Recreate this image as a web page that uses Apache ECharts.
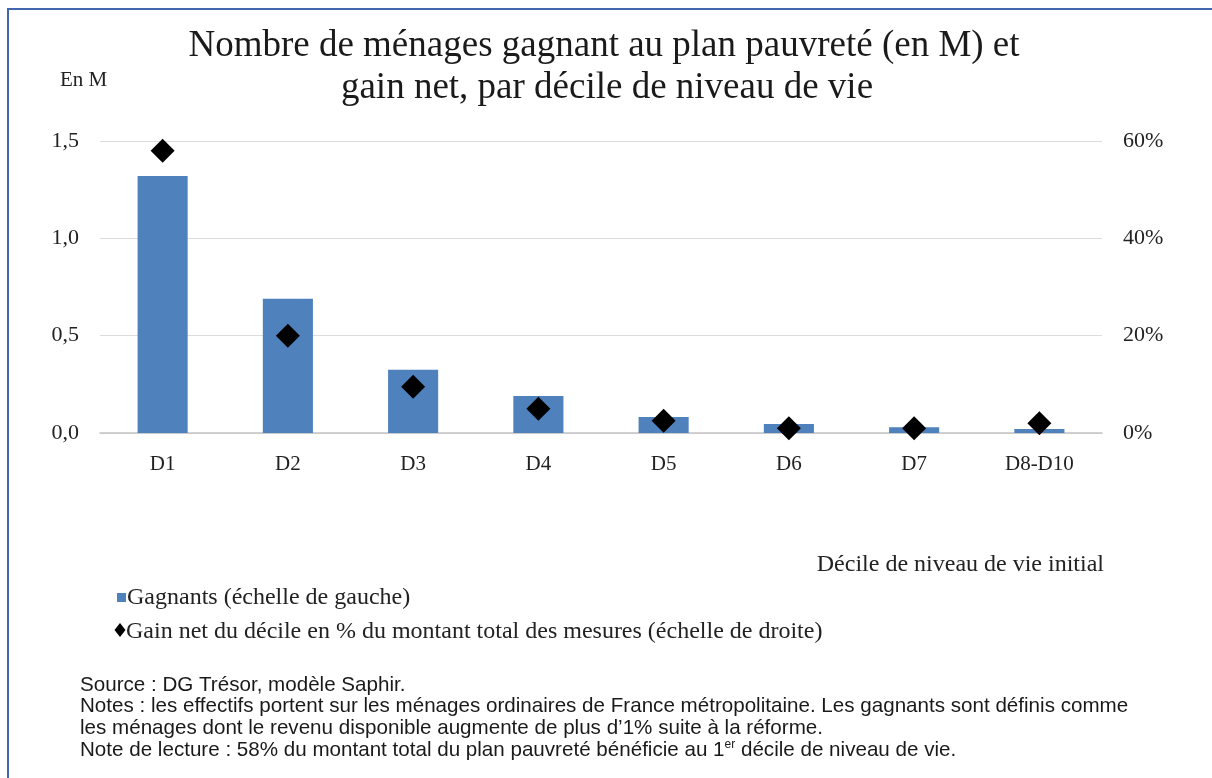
<!DOCTYPE html>
<html>
<head>
<meta charset="utf-8">
<script src="https://cdn.jsdelivr.net/npm/echarts@6/dist/echarts.min.js"></script>
<style>
  html, body { margin: 0; padding: 0; background: #fff; }
  #frame {
    position: absolute; left: 7px; top: 8px; width: 1205px; height: 770px;
    border-top: 2px solid #4466b0; border-left: 2px solid #4466b0;
    box-sizing: border-box;
  }
  #chart { position: absolute; left: 0; top: 0; width: 1212px; height: 778px; }
</style>
</head>
<body>
<div id="frame"></div>
<div id="chart"></div>
<script>
const SERIF = '"Liberation Serif", "DejaVu Serif", serif';
const SANS = '"Liberation Sans", Arial, sans-serif';

const deciles = ["D1", "D2", "D3", "D4", "D5", "D6", "D7", "D8-D10"];
// winners, millions of households (left axis)
const gagnants = [1.32, 0.69, 0.325, 0.19, 0.082, 0.046, 0.03, 0.02];
// net gain as % of total measures (right axis)
const gainNet = [58, 20, 9.5, 5, 2.5, 1, 1, 2];

const leftTicks = [0, 0.5, 1.0, 1.5];
const rightTicks = [0, 20, 40, 60];

const notes = [
  "Source : DG Trésor, modèle Saphir.",
  "Notes : les effectifs portent sur les ménages ordinaires de France métropolitaine. Les gagnants sont définis comme",
  "les ménages dont le revenu disponible augmente de plus d’1% suite à la réforme.",
  "Note de lecture : 58% du montant total du plan pauvreté bénéficie au 1{sup|er} décile de niveau de vie."
];

const chart = echarts.init(document.getElementById("chart"), null, { renderer: "canvas" });

chart.setOption({
  backgroundColor: "transparent",
  animation: false,
  grid: { left: 100, right: 110, top: 141, height: 292 },
  xAxis: {
    type: "category",
    data: deciles,
    axisTick: { show: false },
    axisLine: { lineStyle: { color: "#c4c4c4", width: 1.5 } },
    axisLabel: { fontFamily: SERIF, fontSize: 21, color: "#222", margin: 21 }
  },
  yAxis: [
    {
      type: "value", min: 0, max: 1.5, interval: 0.5,
      axisLine: { show: false }, axisTick: { show: false },
      splitLine: { lineStyle: { color: "#dcdcdc" } },
      axisLabel: {
        fontFamily: SERIF, fontSize: 22, color: "#222", margin: 21,
        formatter: (v) => leftTicks.includes(v) ? v.toFixed(1).replace(".", ",") : ""
      }
    },
    {
      type: "value", min: 0, max: 60, interval: 20,
      axisLine: { show: false }, axisTick: { show: false },
      splitLine: { show: false },
      axisLabel: {
        fontFamily: SERIF, fontSize: 22, color: "#222", margin: 21,
        formatter: (v) => rightTicks.includes(v) ? v + "%" : ""
      }
    }
  ],
  series: [
    {
      type: "bar", name: "Gagnants",
      data: gagnants, barWidth: "40%",
      itemStyle: { color: "#4f81bd" }
    },
    {
      type: "scatter", name: "Gain net", yAxisIndex: 1,
      data: gainNet, symbol: "diamond", symbolSize: [24, 24],
      itemStyle: { color: "#000", opacity: 1 }
    }
  ],
  graphic: [
    { type: "text", x: 604, y: 46,
      style: { text: "Nombre de ménages gagnant au plan pauvreté (en M) et", fontFamily: SERIF, fontSize: 37,
        fill: "#1a1a1a", align: "center", verticalAlign: "middle" } },
    { type: "text", x: 607, y: 88,
      style: { text: "gain net, par décile de niveau de vie", fontFamily: SERIF, fontSize: 37,
        fill: "#1a1a1a", align: "center", verticalAlign: "middle" } },
    { type: "text", x: 60, y: 80,
      style: { text: "En M", fontFamily: SERIF, fontSize: 21, fill: "#222", verticalAlign: "middle" } },
    { type: "text", x: 1104, y: 565,
      style: { text: "Décile de niveau de vie initial", fontFamily: SERIF, fontSize: 24, fill: "#222",
        align: "right", verticalAlign: "middle" } },
    { type: "rect", shape: { x: 117, y: 593, width: 9, height: 9 }, style: { fill: "#4f81bd" } },
    { type: "text", x: 127, y: 598,
      style: { text: "Gagnants (échelle de gauche)", fontFamily: SERIF, fontSize: 24, fill: "#222", verticalAlign: "middle" } },
    { type: "polygon", shape: { points: [[120, 623], [125.5, 630], [120, 637], [114.5, 630]] }, style: { fill: "#000" } },
    { type: "text", x: 126, y: 632,
      style: { text: "Gain net du décile en % du montant total des mesures (échelle de droite)", fontFamily: SERIF,
        fontSize: 24, fill: "#222", verticalAlign: "middle" } },
    { type: "text", x: 80, y: 674,
      style: {
        text: notes.join("\n"), fontFamily: SANS, fontSize: 20.6, lineHeight: 21.7, fill: "#1a1a1a",
        rich: { sup: { fontSize: 12, verticalAlign: "top", padding: [0, 0, 9, 0], fontFamily: SANS, fill: "#1a1a1a" } }
      } }
  ]
});
</script>
</body>
</html>
